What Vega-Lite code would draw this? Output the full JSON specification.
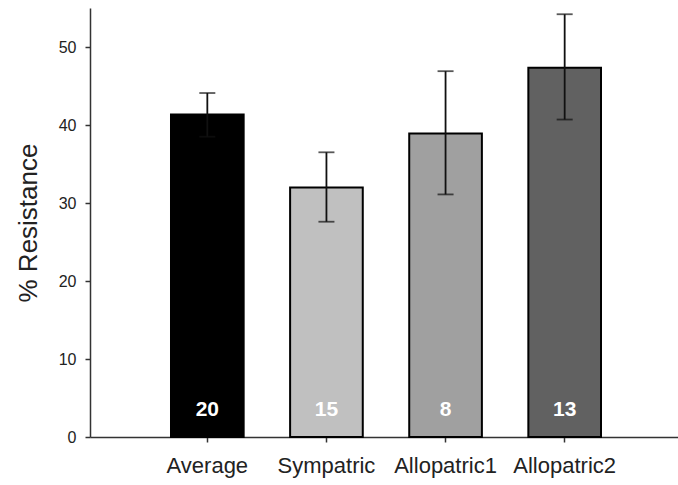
{
  "$schema": "https://vega.github.io/schema/vega-lite/v6.json",
  "autosize": "none",
  "padding": {"left": 90, "top": 8, "right": 0, "bottom": 48},
  "width": 592,
  "height": 429,
  "background": "white",
  "config": {
    "view": {"stroke": null},
    "font": "Liberation Sans",
    "axis": {"grid": false, "domainColor": "#333333", "domainWidth": 1.5, "tickColor": "#333333", "tickWidth": 1.5, "tickSize": 5, "labelColor": "#222222", "titleColor": "#222222", "labelFont": "Liberation Sans", "titleFont": "Liberation Sans"}
  },
  "data": {
    "values": [
      {"group": "Average", "value": 41.35, "lo": 38.5, "hi": 44.1, "n": "20"},
      {"group": "Sympatric", "value": 32.0, "lo": 27.6, "hi": 36.5, "n": "15"},
      {"group": "Allopatric1", "value": 38.9, "lo": 31.1, "hi": 46.9, "n": "8"},
      {"group": "Allopatric2", "value": 47.35, "lo": 40.7, "hi": 54.2, "n": "13"}
    ]
  },
  "encoding": {
    "x": {
      "field": "group", "type": "nominal", "sort": null,
      "scale": {"paddingInner": 0.39, "paddingOuter": 0.68},
      "axis": {"title": null, "labelAngle": 0, "labelFontSize": 22, "labelPadding": 13}
    }
  },
  "layer": [
    {
      "mark": {"type": "bar", "stroke": "black", "strokeWidth": 2},
      "encoding": {
        "y": {
          "field": "value", "type": "quantitative",
          "scale": {"domain": [0, 55], "nice": false},
          "axis": {"title": "% Resistance", "titleFontSize": 26, "titleFontWeight": "normal", "labelFontSize": 16, "labelPadding": 9, "titlePadding": 17, "values": [0, 10, 20, 30, 40, 50]}
        },
        "color": {
          "field": "group", "type": "nominal", "legend": null,
          "scale": {"domain": ["Average", "Sympatric", "Allopatric1", "Allopatric2"], "range": ["#000000", "#c0c0c0", "#a0a0a0", "#616161"]}
        }
      }
    },
    {
      "mark": {"type": "rule", "color": "#111111", "strokeWidth": 1.8},
      "encoding": {
        "y": {"field": "lo", "type": "quantitative"},
        "y2": {"field": "hi"}
      }
    },
    {
      "mark": {"type": "tick", "color": "#111111", "size": 16, "thickness": 1.8, "orient": "horizontal"},
      "encoding": {"y": {"field": "hi", "type": "quantitative"}}
    },
    {
      "mark": {"type": "tick", "color": "#111111", "size": 16, "thickness": 1.8, "orient": "horizontal"},
      "encoding": {"y": {"field": "lo", "type": "quantitative"}}
    },
    {
      "mark": {"type": "text", "color": "white", "fontWeight": "bold", "fontSize": 21, "baseline": "alphabetic", "dy": -21},
      "encoding": {
        "y": {"datum": 0, "type": "quantitative"},
        "text": {"field": "n"}
      }
    }
  ]
}
